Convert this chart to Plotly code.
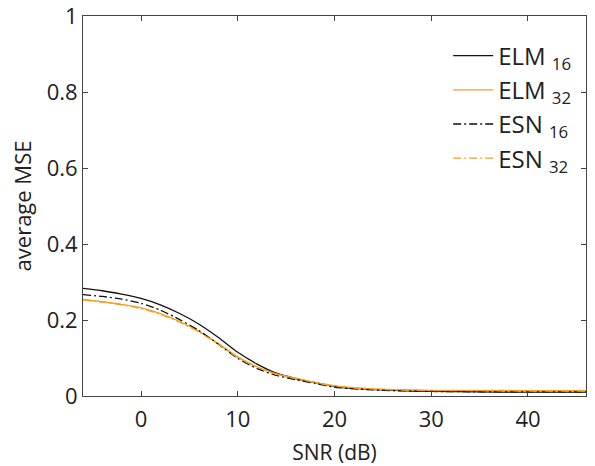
import plotly.graph_objects as go

snr = [-6, -4, -2, 0, 2, 4, 6, 8, 10, 12, 14, 16, 18, 20, 22, 24, 26, 28, 30, 35, 40, 46]
elm16 = [0.283, 0.277, 0.268, 0.257, 0.240, 0.217, 0.189, 0.154, 0.115, 0.084, 0.060, 0.046, 0.035, 0.025, 0.020, 0.017, 0.015, 0.013, 0.012, 0.011, 0.010, 0.010]
elm32 = [0.254, 0.248, 0.241, 0.232, 0.217, 0.196, 0.170, 0.138, 0.103, 0.077, 0.058, 0.047, 0.036, 0.027, 0.022, 0.019, 0.017, 0.016, 0.015, 0.015, 0.014, 0.014]
esn16 = [0.267, 0.262, 0.255, 0.244, 0.226, 0.201, 0.172, 0.136, 0.099, 0.072, 0.054, 0.043, 0.033, 0.023, 0.019, 0.016, 0.014, 0.013, 0.012, 0.011, 0.011, 0.011]
esn32 = [0.253, 0.247, 0.240, 0.230, 0.215, 0.194, 0.168, 0.136, 0.101, 0.076, 0.057, 0.046, 0.035, 0.026, 0.021, 0.018, 0.016, 0.015, 0.014, 0.014, 0.013, 0.013]

names = ["ELM <sub>16</sub>", "ELM <sub>32</sub>", "ESN <sub>16</sub>", "ESN <sub>32</sub>"]
BLACK = "#111111"
ORANGE = "#F5A020"
FONT = "Open Sans"
TXT = "#222222"

fig = go.Figure()
series = [(elm16, BLACK, "solid"), (elm32, ORANGE, "solid"),
          (esn16, BLACK, "8px,3px,2px,3px"), (esn32, ORANGE, "8px,3px,2px,3px")]
for (ys, col, dash), nm in zip(series, names):
    fig.add_trace(go.Scatter(x=snr, y=ys, mode="lines", name=nm,
                             line=dict(color=col, width=1.3, dash=dash, shape="spline", smoothing=0.6)))

axis_common = dict(showline=True, linecolor="#444444", linewidth=1, mirror="ticks",
                   ticks="inside", ticklen=5, tickcolor="#444444", showgrid=False,
                   zeroline=False, ticklabeloverflow="allow",
                   tickfont=dict(family=FONT, size=22, color=TXT))
fig.update_xaxes(range=[-6, 46], tickvals=[0, 10, 20, 30, 40], ticklabelstandoff=4, **axis_common,
                 title=dict(text="SNR (dB)", font=dict(family=FONT, size=21, color=TXT), standoff=15))
fig.update_yaxes(range=[0, 1], tickvals=[0, 0.2, 0.4, 0.6, 0.8, 1], ticktext=["0", "0.2", "0.4", "0.6", "0.8", "1"],
                 **axis_common,
                 title=dict(text="average MSE", font=dict(family=FONT, size=22, color=TXT), standoff=8))
fig.update_layout(width=595, height=466, margin=dict(l=83, r=9, t=16, b=70, autoexpand=False),
                  paper_bgcolor="white", plot_bgcolor="white",
                  font=dict(family=FONT, color=TXT),
                  legend=dict(x=0.726, y=0.954, xanchor="left", yanchor="top",
                              font=dict(family=FONT, size=24, color=TXT),
                              bgcolor="rgba(0,0,0,0)", tracegroupgap=0, itemwidth=40))
fig.write_html("out.html", config={"displayModeBar": False},
               post_script="document.body.style.margin='0';document.body.style.overflow='hidden';")
